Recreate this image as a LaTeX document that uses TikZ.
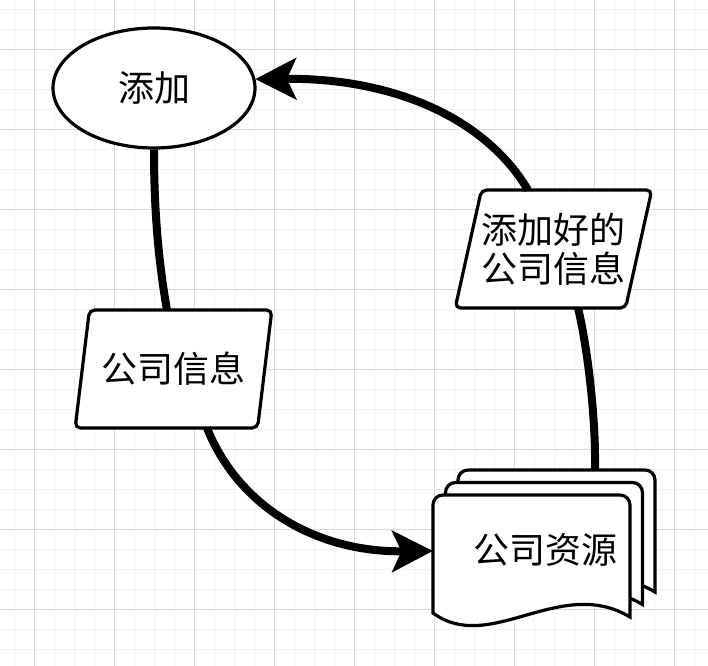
\documentclass[tikz,border=0pt]{standalone}
\usepackage{fontspec}
\setmainfont{Noto Sans CJK SC}
\usetikzlibrary{arrows.meta,shapes.geometric}
\definecolor{gridminor}{HTML}{F2F2F2}
\definecolor{gridmajor}{HTML}{DADADA}

\begin{document}
\begin{tikzpicture}[x=0.75pt,y=-0.75pt,
  every node/.style={font=\fontsize{27pt}{29pt}\selectfont},
  oval/.style={draw,ellipse,line width=2.4pt,fill=white,minimum width=151.5pt,minimum height=90pt},
  data/.style={draw,trapezium,trapezium left angle=70,trapezium right angle=110,trapezium stretches=true,rounded corners=4pt,line width=2.4pt,fill=white,minimum width=147.75pt,minimum height=88.5pt,align=center,inner sep=0pt},
  docline/.style={draw,line width=2.4pt,fill=white},
  minor/.style={gridminor,line width=0.75pt},
  major/.style={gridmajor,line width=0.75pt},
  conn/.style={line width=6pt},
  arr/.style={-{Stealth[length=31pt,width=32pt,inset=7.5pt,line width=0pt]}}]

\useasboundingbox (0,0) rectangle (708,666);

% grid
\foreach \g in {14,34,...,694} \draw[minor] (\g,0) -- (\g,666);
\foreach \g in {10,30,...,650} \draw[minor] (0,\g) -- (708,\g);
\foreach \g in {34,114,...,674} \draw[major] (\g,0) -- (\g,666);
\foreach \g in {50,130,...,610} \draw[major] (0,\g) -- (708,\g);

\node[oval] (add) at (154,88) {添加};
\node[data] (info) at (173.5,369) {公司信息};
\node[data] (added) at (553.5,249) {添加好的\\公司信息};
\node[minimum width=147.75pt,minimum height=90pt,inner sep=0pt] (res) at (531.5,555) {};

% stacked documents
\foreach \d in {25,12.5,0}
  \draw[docline,shift={(433+\d,495-\d)}] (0,118) [rounded corners=7.5pt]-- (0,0) -- (197,0) [sharp corners]-- (197,122) .. controls (127,80) and (57,160) .. (0,118) -- cycle;
\node (reslabel) at (545,550) {公司资源};

\draw[conn] (add.south) .. controls (154,220) and (160,270) .. ([xshift=-4.9pt,yshift=44.25pt]info.center);
\draw[conn,arr] ([xshift=25.1pt,yshift=-44.25pt]info.center) .. controls (240,510) and (320,552) .. ([yshift=3pt]res.west);
\draw[conn] ([xshift=47.6pt,yshift=18.75pt]res.north) .. controls (596,420) and (588,350) .. ([xshift=18.4pt,yshift=-44.25pt]added.center);
\draw[conn,arr] ([xshift=-19.1pt,yshift=44.25pt]added.center) .. controls (480,110) and (380,78) .. (add.5);

\end{tikzpicture}
\end{document}
